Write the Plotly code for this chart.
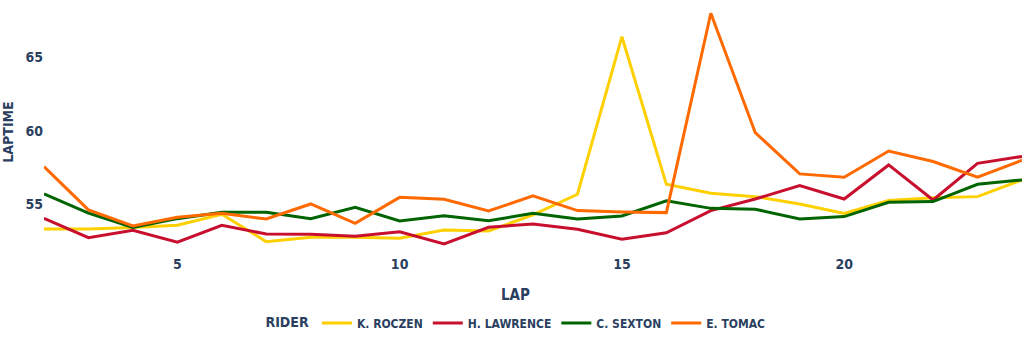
import plotly.graph_objects as go

laps = list(range(2, 25))

roczen = [53.3, 53.3, 53.4, 53.55, 54.3, 52.43, 52.73, 52.73, 52.66, 53.23, 53.16, 54.25,
          55.66, 66.4, 56.34, 55.73, 55.5, 55.0, 54.36, 55.23, 55.43, 55.5, 56.64]
lawrence = [54.02, 52.7, 53.2, 52.4, 53.55, 52.95, 52.93, 52.8, 53.1, 52.27, 53.41, 53.64,
            53.27, 52.6, 53.04, 54.55, 55.34, 56.25, 55.34, 57.66, 55.27, 57.77, 58.24]
sexton = [55.68, 54.37, 53.4, 54.0, 54.43, 54.43, 54.0, 54.77, 53.84, 54.2, 53.86, 54.36,
          53.98, 54.18, 55.22, 54.7, 54.64, 53.98, 54.14, 55.11, 55.16, 56.34, 56.64]
tomac = [57.54, 54.6, 53.5, 54.1, 54.36, 53.98, 55.0, 53.68, 55.45, 55.32, 54.52, 55.55,
         54.55, 54.45, 54.41, 68.0, 59.86, 57.05, 56.82, 58.61, 57.89, 56.82, 57.98]

riders = ["K. ROCZEN", "H. LAWRENCE", "C. SEXTON", "E. TOMAC"]
series = [roczen, lawrence, sexton, tomac]
colors = ["#FFD000", "#C8102E", "#006400", "#FF6A00"]

x_ticks = [5, 10, 15, 20]
y_ticks = [55, 60, 65]

FONT = "'DejaVu Sans Condensed', 'Liberation Sans Narrow', 'Roboto', sans-serif"
TXT = "#2a3f5f"

fig = go.Figure()
for name, vals, col in zip(riders, series, colors):
    fig.add_trace(go.Scatter(x=laps, y=vals, mode="lines", name=name,
                             line=dict(color=col, width=3)))

fig.update_layout(
    width=1024, height=341,
    margin=dict(l=44, r=2, t=10, b=87),
    paper_bgcolor="white", plot_bgcolor="white",
    font=dict(family=FONT, size=12, color=TXT, weight="bold"),
    showlegend=True,
    legend=dict(orientation="h", x=0.4836, xanchor="center", y=-0.283, yanchor="middle",
                title=dict(text="RIDER", font=dict(size=14)),
                font=dict(size=12)),
    xaxis=dict(range=[2, 24], tickvals=x_ticks, showgrid=False, zeroline=False,
               showline=False, ticks="", tickfont=dict(size=14)),
    yaxis=dict(range=[51.59, 68.22], tickvals=y_ticks, showgrid=False, zeroline=False,
               showline=False, ticks="", tickfont=dict(size=14),
               title=dict(text="LAPTIME", font=dict(size=14), standoff=10)),
    annotations=[dict(text="LAP", xref="paper", yref="paper", x=0.4816, y=-0.168,
                      xanchor="center", yanchor="middle", showarrow=False,
                      font=dict(size=15))],
)

fig.write_html("out.html")
